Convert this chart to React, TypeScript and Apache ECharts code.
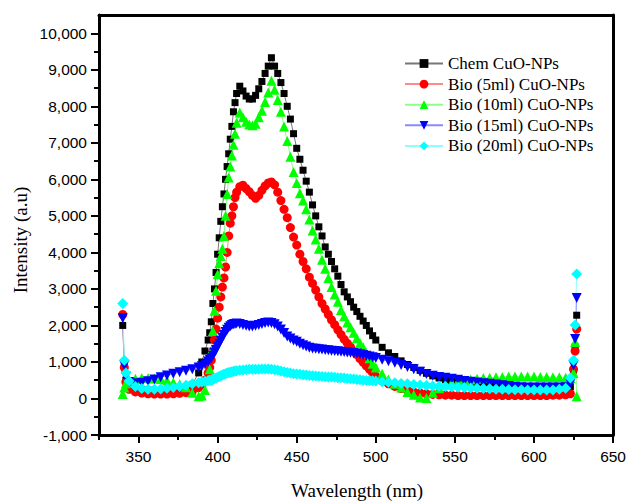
import React, { useEffect, useRef } from "react";
import * as echarts from "echarts";

const xs = [340, 341, 342,
  344, 348, 352, 356, 360, 364, 368, 372, 376, 380, 384, 388,
  390, 392, 394,
  395, 396, 397, 398, 399, 400, 401, 402, 403, 404, 405, 406, 407, 408, 409, 410, 411,
  412, 414, 416, 418, 420, 422, 424, 426, 428, 430, 432, 434, 436, 438, 440, 442, 444, 446, 448, 450,
  452, 454, 456, 458, 460, 462, 464, 466, 468, 470, 472, 474, 476, 478, 480, 482, 484, 486, 488, 490,
  492, 494, 496, 498, 500,
  504, 508, 512, 516, 520, 524, 528, 532, 536, 540, 544, 548, 552, 556, 560, 564, 568, 572, 576, 580,
  584, 588, 592, 596, 600, 604, 608, 612, 616, 620,
  623, 625, 626, 627];

const chem = [2000, 900, 500,
  350, 280, 250, 230, 220, 210, 210, 220, 240, 280, 380, 700,
  1000, 1300, 1600,
  1800, 2100, 2600, 3000, 3450, 3950, 4400, 4850, 5250, 5600, 6000, 6350, 6700, 7100, 7450, 7850, 8100,
  8350, 8550, 8420, 8280, 8200, 8200, 8300, 8480, 8680, 8900, 9100, 9330, 9100, 8900, 8650, 8350, 8000, 7650, 7250, 6850,
  6550, 6250, 5950, 5650, 5300, 5000, 4700, 4450, 4150, 3950, 3750, 3550, 3350, 3120, 2920, 2780, 2650, 2500, 2380, 2250,
  2120, 2000, 1850, 1720, 1600,
  1400, 1250, 1150, 1030, 930, 850, 770, 690, 620, 560, 510, 470, 430, 400, 380, 360, 350, 340, 330, 320,
  310, 300, 300, 290, 290, 290, 290, 290, 290, 300,
  320, 780, 1410, 2280];

const bio5 = [2300, 850, 450,
  250, 180, 150, 130, 120, 120, 120, 130, 140, 160, 200, 300,
  380, 500, 700,
  850, 1050, 1300, 1600, 1900, 2200, 2500, 2780, 3050, 3300, 3600, 4000, 4450, 4800, 5000, 5250, 5500,
  5650, 5800, 5840, 5750, 5660, 5560, 5480, 5560, 5700, 5820, 5900, 5930, 5850, 5650, 5420, 5180, 4950, 4680, 4420, 4200,
  3950, 3750, 3550, 3320, 3150, 2970, 2780, 2600, 2450, 2300, 2150, 2020, 1880, 1750, 1620, 1510, 1410, 1300, 1200, 1090,
  990, 890, 800, 700, 610,
  480, 400, 330, 270, 220, 180, 150, 130, 110, 100, 90, 90, 80, 80, 80, 80, 80, 80, 80, 80,
  80, 80, 80, 80, 80, 80, 80, 90, 90, 100,
  130, 800, 1300, 1900];

const bio10 = [120, 300, 420,
  500, 540, 560, 560, 550, 530, 490, 440, 390, 310, 160, 60,
  80, 230, 500,
  800, 1300, 1850, 2400, 2950, 3400, 3700, 3900, 4100, 4450, 5000, 5600, 6050, 6350, 6650, 6950, 7250,
  7550, 7830, 7700, 7580, 7500, 7480, 7520, 7700, 7880, 8120, 8380, 8700, 8450, 8170, 7850, 7450, 7050, 6620, 6200, 5900,
  5620, 5420, 5180, 4900, 4600, 4350, 4100, 3800, 3550, 3300, 3050, 2850, 2650, 2420, 2250, 2080, 1950, 1800, 1650, 1520,
  1400, 1250, 1100, 950, 850,
  680, 520, 400, 300, 180, 100, 30, 10, 160, 280, 380, 440, 470, 500, 520, 540, 560, 570, 580, 590,
  600, 600, 600, 600, 600, 590, 590, 580, 580, 570,
  560, 700, 1545, 60];

const bio15 = [2200, 900, 600,
  450, 420, 430, 470, 520, 580, 630, 680, 720, 760, 800, 850,
  880, 940, 1010,
  1060, 1110, 1170, 1250, 1330, 1420, 1500, 1580, 1660, 1740, 1820, 1880, 1940, 1980, 2010, 2030, 2040,
  2050, 2040, 2010, 1990, 1970, 1970, 1990, 2010, 2040, 2070, 2080, 2070, 2030, 1970, 1890, 1790, 1700, 1640, 1590, 1550,
  1500, 1460, 1420, 1390, 1370, 1360, 1350, 1340, 1330, 1320, 1310, 1300, 1290, 1280, 1270, 1260, 1250, 1240, 1230, 1210,
  1190, 1170, 1150, 1130, 1110,
  1060, 1020, 980, 920, 860, 800, 730, 670, 620, 590, 570, 540, 510, 480, 460, 440, 420, 400, 380, 360,
  340, 320, 310, 300, 300, 300, 300, 300, 300, 310,
  400, 900, 1630, 2750];

const bio20 = [2600, 1050, 700,
  480, 330, 270, 250, 250, 260, 280, 300, 330, 360, 400, 430,
  450, 470, 490,
  500, 510, 520, 540, 560, 580, 600, 620, 640, 660, 680, 700, 710, 720, 730, 740, 750,
  760, 770, 780, 790, 800, 800, 800, 800, 810, 810, 810, 800, 790, 770, 750, 730, 710, 700, 680, 670,
  660, 650, 640, 630, 620, 615, 610, 600, 595, 590, 585, 580, 570, 565, 560, 550, 540, 530, 520, 510,
  500, 495, 490, 485, 480,
  460, 445, 430, 410, 400, 385, 370, 355, 345, 335, 325, 315, 310, 300, 290, 280, 270, 265, 255, 250,
  245, 240, 240, 235, 230, 230, 230, 235, 250, 280,
  560, 1050, 2010, 3405];

const seriesNames = ["Chem CuO-NPs", "Bio (5ml) CuO-NPs", "Bio (10ml) CuO-NPs", "Bio (15ml) CuO-NPs", "Bio (20ml) CuO-NPs"];
const seriesValues = [chem, bio5, bio10, bio15, bio20];

const xMajorTicks = [350, 400, 450, 500, 550, 600, 650];
const xMinorTicks = [325, 375, 425, 475, 525, 575, 625];
const yMajorTicks = [-1000, 0, 1000, 2000, 3000, 4000, 5000, 6000, 7000, 8000, 9000, 10000];
const yMinorTicks = [-500, 500, 1500, 2500, 3500, 4500, 5500, 6500, 7500, 8500, 9500];

const styles = [
  { symbol: "rect", size: 7, rotate: 0, color: "#000000", line: "#777777" },
  { symbol: "circle", size: 9, rotate: 0, color: "#ff0000", line: "#ff8a8a" },
  { symbol: "triangle", size: 10, rotate: 0, color: "#00ff00", line: "#8aff8a" },
  { symbol: "triangle", size: 10, rotate: 180, color: "#0000ff", line: "#8a8aff" },
  { symbol: "diamond", size: 11, rotate: 0, color: "#00ffff", line: "#8affff" },
];

const GRID = { left: 99, top: 15, right: 14, bottom: 66 };
const W = 629;
const H = 501;

export default function App() {
  const ref = useRef<HTMLDivElement>(null);
  useEffect(() => {
    if (!ref.current) return;
    const chart = echarts.init(ref.current, null, { renderer: "svg" });
    const labelFont = { fontFamily: "Liberation Sans", fontSize: 15.5, color: "#000" };
    const fmt = (v: number) => v.toLocaleString("en-US");
    const frameLine = () => ({ show: true, onZero: false, lineStyle: { color: "#000", width: 3 } });
    chart.setOption({
      animation: false,
      backgroundColor: "#ffffff",
      grid: { ...GRID, containLabel: false },
      legend: {
        orient: "vertical",
        left: 399,
        top: 50,
        itemWidth: 38,
        itemHeight: 11,
        itemGap: 3.6,
        textStyle: { fontFamily: "Liberation Serif", fontSize: 17, color: "#000" },
        data: seriesNames,
      },
      xAxis: [
        {
          type: "value", min: 325, max: 650, position: "bottom",
          axisLine: frameLine(),
          axisTick: { show: true, length: 8, lineStyle: { color: "#000", width: 2 }, customValues: xMajorTicks },
          axisLabel: { ...labelFont, margin: 13, customValues: xMajorTicks },
          splitLine: { show: false },
        },
        {
          type: "value", min: 325, max: 650, position: "bottom",
          axisLine: { show: false, onZero: false },
          axisTick: { show: true, length: 5, lineStyle: { color: "#000", width: 2 }, customValues: xMinorTicks },
          axisLabel: { show: false },
          splitLine: { show: false },
        },
        {
          type: "value", min: 325, max: 650, position: "top",
          axisLine: frameLine(),
          axisTick: { show: false },
          axisLabel: { show: false },
          splitLine: { show: false },
        },
      ],
      yAxis: [
        {
          type: "value", min: -1000, max: 10500, position: "left",
          axisLine: frameLine(),
          axisTick: { show: true, length: 8, lineStyle: { color: "#000", width: 2 }, customValues: yMajorTicks },
          axisLabel: { ...labelFont, margin: 12, customValues: yMajorTicks, formatter: fmt },
          splitLine: { show: false },
        },
        {
          type: "value", min: -1000, max: 10500, position: "left",
          axisLine: { show: false, onZero: false },
          axisTick: { show: true, length: 5, lineStyle: { color: "#000", width: 2 }, customValues: yMinorTicks },
          axisLabel: { show: false },
          splitLine: { show: false },
        },
        {
          type: "value", min: -1000, max: 10500, position: "right",
          axisLine: frameLine(),
          axisTick: { show: false },
          axisLabel: { show: false },
          splitLine: { show: false },
        },
      ],
      graphic: [
        {
          type: "text", x: 20, y: 240, rotation: Math.PI / 2,
          style: { text: "Intensity (a.u)", font: '19px "Liberation Serif"', fill: "#000", align: "center", verticalAlign: "middle", textAlign: "center", textVerticalAlign: "middle" },
        },
        {
          type: "text", x: 357, y: 490,
          style: { text: "Wavelength (nm)", font: '19px "Liberation Serif"', fill: "#000", align: "center", verticalAlign: "middle", textAlign: "center", textVerticalAlign: "middle" },
        },
      ],
      series: seriesNames.map((name, k) => ({
        name,
        type: "line",
        xAxisIndex: 0,
        yAxisIndex: 0,
        data: xs.map((x, i) => [x, seriesValues[k][i]]),
        symbol: styles[k].symbol,
        symbolSize: styles[k].size,
        symbolRotate: styles[k].rotate,
        showAllSymbol: true,
        itemStyle: { color: styles[k].color },
        lineStyle: { color: styles[k].line, width: 1 },
        emphasis: { disabled: true },
      })),
    });
    return () => chart.dispose();
  }, []);
  return <div ref={ref} style={{ position: "fixed", left: 0, top: 0, width: W, height: H, background: "#fff" }} />;
}
